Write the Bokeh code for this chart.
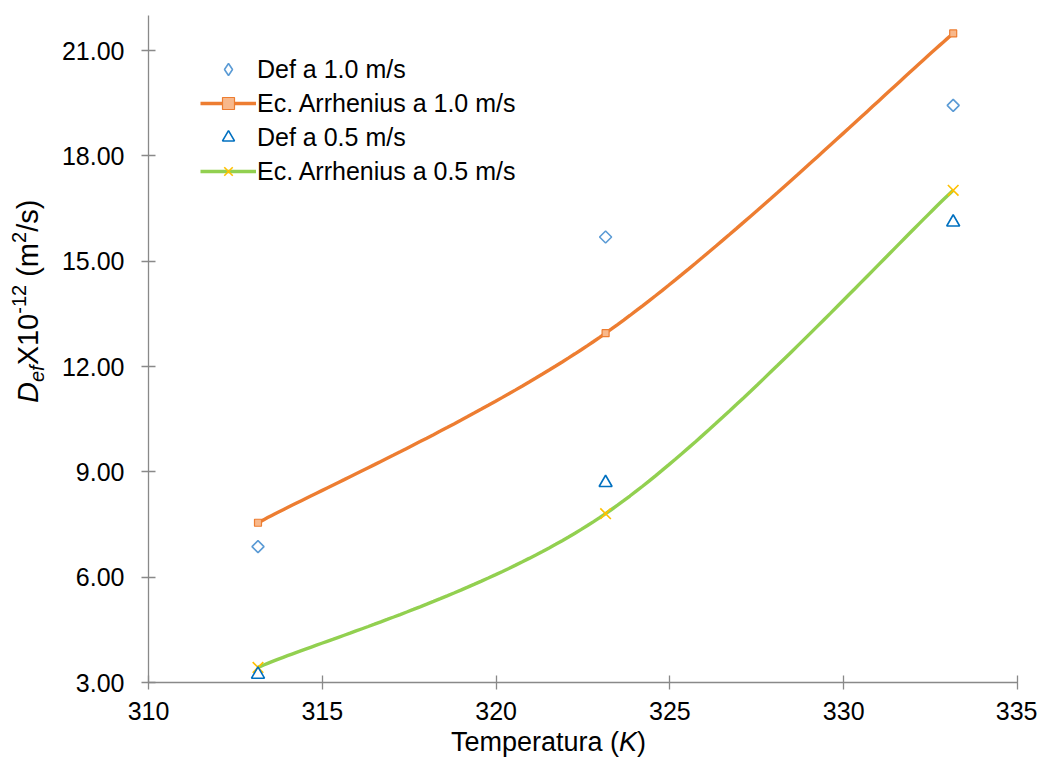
import numpy as np
from bokeh.plotting import figure
from bokeh.models import (Range1d, FixedTicker, PrintfTickFormatter,
                          Legend, LegendItem, Div)
from bokeh.layouts import row, column
from bokeh.embed import file_html
from bokeh.resources import INLINE

# ---------------- data ----------------
temps = [313.15, 323.15, 333.15]
def_10 = [6.87, 15.69, 19.44]          # Def a 1.0 m/s
arr_10 = [7.55, 12.95, 21.49]          # Ec. Arrhenius a 1.0 m/s
def_05 = [3.23, 8.69, 16.11]           # Def a 0.5 m/s
arr_05 = [3.43, 7.81, 17.02]           # Ec. Arrhenius a 0.5 m/s
x_ticks = [310, 315, 320, 325, 330, 335]
y_ticks = [3, 6, 9, 12, 15, 18, 21]

FONT = "Liberation Sans"
TOT_W, TOT_H = 1025, 742
YDIV_W = 48
FIG_W = TOT_W - YDIV_W
BORDER_L = 88
FRAME_W = 869
FRAME_T, FRAME_B = 15, 682
BORDER_B = 50
FIG_H = FRAME_B + BORDER_B
XDIV_H = TOT_H - FIG_H


def smooth(xs, ys, n=60):
    """Excel-like smoothed line: cubic Bezier with Catmull-Rom control points."""
    P = np.column_stack([xs, ys]).astype(float)
    m = len(P)
    out = []
    for i in range(m - 1):
        p0 = P[i - 1] if i > 0 else P[i]
        p1, p2 = P[i], P[i + 1]
        p3 = P[i + 2] if i + 2 < m else P[i + 1]
        c1 = p1 + (p2 - p0) / 6.0
        c2 = p2 - (p3 - p1) / 6.0
        t = np.linspace(0, 1, n)[:, None]
        seg = ((1 - t) ** 3) * p1 + 3 * ((1 - t) ** 2) * t * c1 + 3 * (1 - t) * t ** 2 * c2 + t ** 3 * p2
        out.append(seg if i == 0 else seg[1:])
    S = np.vstack(out)
    return S[:, 0], S[:, 1]


p = figure(width=FIG_W, height=FIG_H, output_backend="svg", toolbar_location=None,
           x_range=Range1d(310, 335), y_range=Range1d(3, 22),
           min_border_left=BORDER_L, min_border_right=FIG_W - BORDER_L - FRAME_W,
           min_border_top=FRAME_T, min_border_bottom=BORDER_B,
           frame_width=FRAME_W, frame_height=FRAME_B - FRAME_T)
p.xgrid.visible = False
p.ygrid.visible = False
p.outline_line_color = None
p.background_fill_color = "white"
p.border_fill_color = "white"

for ax in (p.xaxis[0], p.yaxis[0]):
    ax.axis_line_color = "#898989"
    ax.axis_line_width = 1.3
    ax.major_tick_line_color = "#898989"
    ax.major_tick_line_width = 1.3
    ax.major_tick_in = 7
    ax.major_tick_out = 7
    ax.minor_tick_line_color = None
    ax.major_label_text_font = FONT
    ax.major_label_text_font_size = "25px"
    ax.major_label_text_color = "#000000"

p.xaxis.ticker = FixedTicker(ticks=x_ticks)
p.yaxis.ticker = FixedTicker(ticks=y_ticks)
p.yaxis.formatter = PrintfTickFormatter(format="%.2f")
p.xaxis.major_label_standoff = 12
p.yaxis.major_label_standoff = 17

# ---------------- series ----------------
ORANGE = "#ED7D31"
GREEN = "#92D050"
BLUE_L = "#5B9BD5"
BLUE_D = "#0070C0"
YELLOW = "#FFC000"

sx1, sy1 = smooth(temps, arr_10)
sx2, sy2 = smooth(temps, arr_05)

l1 = p.line(sx1, sy1, line_color=ORANGE, line_width=3.4)
m1 = p.scatter(temps, arr_10, marker="square", size=7, line_color=ORANGE,
               fill_color="#F8B88B", line_width=1.2)
l2 = p.line(sx2, sy2, line_color=GREEN, line_width=3.4)
m2 = p.scatter(temps, arr_05, marker="x", size=15, line_color=YELLOW, line_width=1.6)
d1 = p.scatter(temps, def_10, marker="square", angle=np.pi / 4, size=8.5,
               line_color=BLUE_L, fill_color=None, line_width=1.6)
d2 = p.scatter(temps, def_05, marker="triangle", size=13,
               line_color=BLUE_D, fill_color=None, line_width=1.6)
# legend swatch for the diamonds (legend swatches cannot be rotated)
d1_key = p.scatter(temps, def_10, marker="diamond", size=13,
                   line_color=BLUE_L, fill_color=None, line_width=1.6, visible=False)

legend = Legend(items=[
    LegendItem(label="Def a 1.0 m/s", renderers=[d1_key]),
    LegendItem(label="Ec. Arrhenius a 1.0 m/s", renderers=[l1, m1]),
    LegendItem(label="Def a 0.5 m/s", renderers=[d2]),
    LegendItem(label="Ec. Arrhenius a 0.5 m/s", renderers=[l2, m2]),
])
# tuple location = bottom-left corner of the legend, measured from the frame's bottom-left
legend.location = (52, FRAME_B - 186)
legend.margin = 0
legend.padding = 0
legend.spacing = 4
legend.glyph_width = 56
legend.glyph_height = 30
legend.label_height = 30
legend.label_standoff = 1
legend.label_text_font = FONT
legend.label_text_font_size = "25px"
legend.label_text_color = "#000000"
legend.border_line_color = None
legend.background_fill_alpha = 0
p.add_layout(legend)

# ---------------- axis titles (rich HTML text) ----------------
ytitle_html = (
    '<div style="position:relative;width:%dpx;height:%dpx;overflow:visible;">'
    '<span style="position:absolute;left:9px;top:398px;transform:rotate(-90deg);'
    'transform-origin:0 0;white-space:nowrap;font-family:\'Liberation Sans\';'
    'font-size:29px;line-height:29px;color:#000;">'
    '<i>D</i><sub style="font-size:20px;line-height:0;vertical-align:-6px;"><i>ef</i></sub>'
    'X10<sup style="font-size:20px;line-height:0;vertical-align:12px;">-12</sup>'
    ' (m<sup style="font-size:20px;line-height:0;vertical-align:12px;">2</sup>/s)'
    '</span></div>' % (YDIV_W, TOT_H)
)
xtitle_html = (
    '<div style="position:relative;width:%dpx;height:%dpx;overflow:visible;">'
    '<span style="position:absolute;left:%dpx;top:%dpx;white-space:nowrap;'
    'font-family:\'Liberation Sans\';font-size:27px;line-height:27px;color:#000;">'
    'Temperatura (<i>K</i>)</span></div>' % (FIG_W, XDIV_H, 388, 722 - FIG_H)
)
ydiv = Div(text=ytitle_html, width=YDIV_W, height=TOT_H, styles={"overflow": "visible"})
xdiv = Div(text=xtitle_html, width=FIG_W, height=XDIV_H, styles={"overflow": "visible"})

layout = row(ydiv, column(p, xdiv, spacing=0), spacing=0)

open("out.html", "w").write(file_html(layout, INLINE))
